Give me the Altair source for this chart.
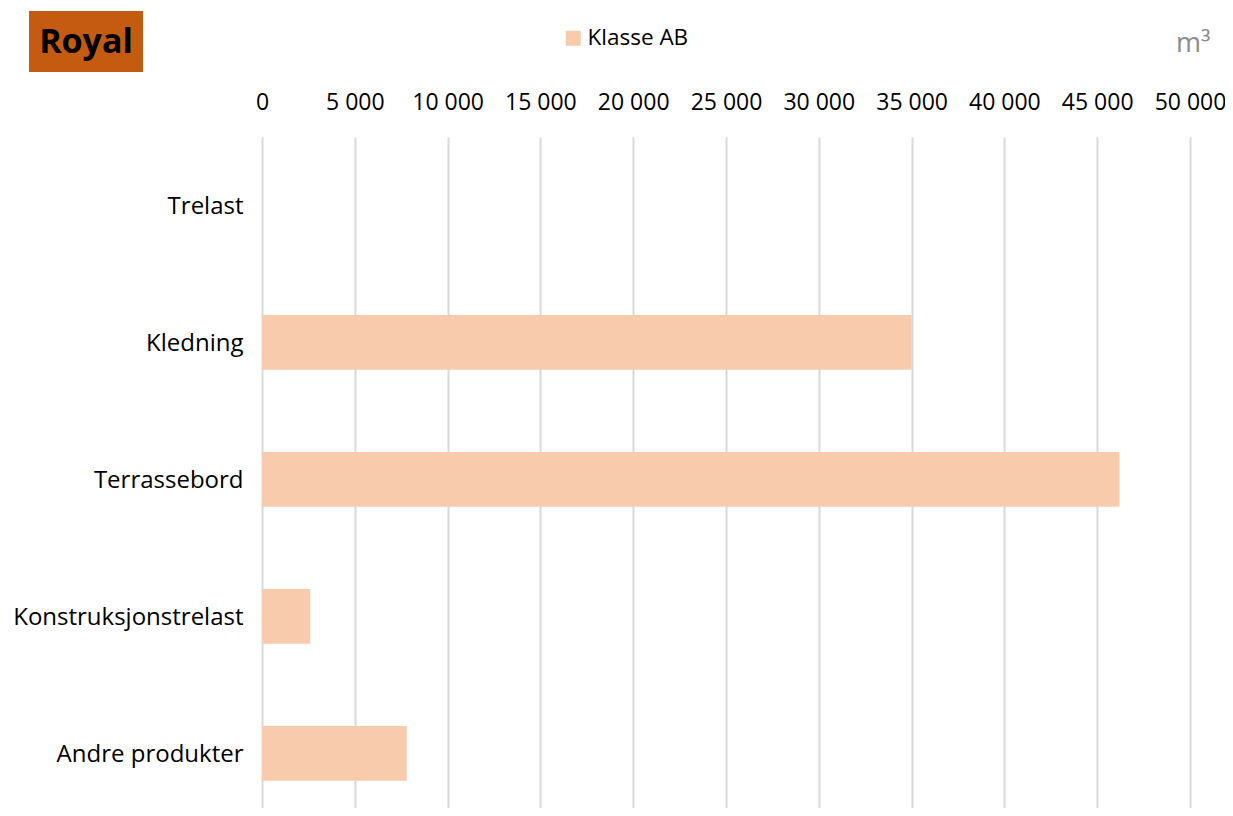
import altair as alt
import pandas as pd

categories = ["Trelast", "Kledning", "Terrassebord", "Konstruksjonstrelast", "Andre produkter"]
values = [0, 35000, 46200, 2600, 7800]
series_name = "Klasse AB"
tick_values = [0, 5000, 10000, 15000, 20000, 25000, 30000, 35000, 40000, 45000, 50000]

FONT = "Open Sans"

df = pd.DataFrame({"Produkt": categories, "Volum": values, "Serie": [series_name] * len(categories)})
one = pd.DataFrame({"t": [0]})

bars = alt.Chart(df).mark_bar(cornerRadius=0).encode(
    y=alt.Y("Produkt:N", sort=categories,
            scale=alt.Scale(paddingInner=0.6, paddingOuter=0.249, align=0.6),
            axis=alt.Axis(title=None, domain=False, ticks=False, labelPadding=19,
                          labelFontSize=24, labelColor="#000000", labelFont=FONT,
                          labelLimit=400, labelOffset=2)),
    x=alt.X("Volum:Q",
            scale=alt.Scale(domain=[0, 50000], nice=False),
            axis=alt.Axis(orient="top", title=None, domain=False, ticks=False,
                          values=tick_values, labelPadding=23, labelFontSize=23,
                          labelColor="#000000", labelFont=FONT,
                          labelOverlap=False, labelFlush=False,
                          labelExpr="replace(format(datum.value, ','), /,/g, ' ')",
                          grid=True, gridColor="#d9d9d9", gridWidth=2)),
    color=alt.Color("Serie:N",
                    scale=alt.Scale(domain=[series_name], range=["#F8CBAD"]),
                    legend=alt.Legend(title=None, orient="none", legendX=300, legendY=-110,
                                      symbolType="square", symbolSize=225, symbolStrokeWidth=0,
                                      labelFontSize=22.5, labelFont=FONT, labelColor="#000000",
                                      labelOffset=3, padding=0)),
)

logo_box = alt.Chart(one).mark_rect(color="#C55A11").encode(
    x=alt.value(-233), x2=alt.value(-119), y=alt.value(-126), y2=alt.value(-65)
)
logo_text = alt.Chart(one).mark_text(
    text="Royal", font=FONT, fontSize=34, fontWeight="bold", color="#000000",
    align="center", baseline="middle"
).encode(x=alt.value(-176), y=alt.value(-94))

unit_text = alt.Chart(one).mark_text(
    text="m³", font=FONT, fontSize=27, color="#8c8c8c", align="left", baseline="alphabetic"
).encode(x=alt.value(914), y=alt.value(-85))

chart = alt.layer(bars, logo_box, logo_text, unit_text).properties(
    width=928, height=671,
    autosize=alt.AutoSizeParams(type="none"),
    padding={"left": 254, "top": 129, "right": 35, "bottom": 0},
).configure_view(stroke=None)

chart.save("out.html", embed_options={"renderer": "svg", "actions": False})
